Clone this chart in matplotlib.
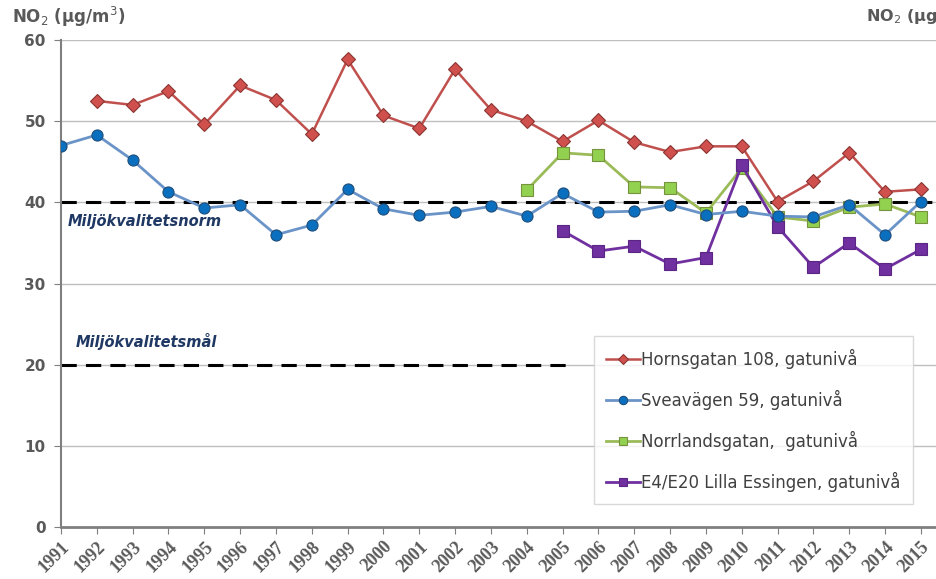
import matplotlib
matplotlib.use("Agg")
import matplotlib.pyplot as plt

# Årsmedelvärden NO2 (µg/m3)
years_horns = list(range(1992, 2016))
horns = [52.5, 52.0, 53.7, 49.6, 54.4, 52.6, 48.4, 57.6, 50.7, 49.1, 56.4, 51.4,
         50.0, 47.5, 50.1, 47.4, 46.2, 46.9, 46.9, 40.1, 42.6, 46.1, 41.3, 41.6]

years_svea = list(range(1991, 2016))
svea = [47.0, 48.3, 45.2, 41.3, 39.3, 39.7, 36.0, 37.2, 41.6, 39.2, 38.4, 38.8, 39.5,
        38.3, 41.1, 38.8, 38.9, 39.7, 38.5, 38.9, 38.3, 38.2, 39.7, 36.0, 40.1]

years_norr = list(range(2004, 2016))
norr = [41.5, 46.1, 45.8, 41.9, 41.8, 38.7, 44.2, 38.2, 37.7, 39.4, 39.8, 38.2]

years_e4 = list(range(2005, 2016))
e4 = [36.5, 34.0, 34.6, 32.4, 33.2, 44.6, 37.0, 32.0, 35.0, 31.8, 34.2]

norm_value = 40
goal_value = 20

year_ticks = list(range(1991, 2016))
y_ticks = [0, 10, 20, 30, 40, 50, 60]

gray = "#595959"

fig = plt.figure(figsize=(9.37, 5.79), dpi=100)
ax = fig.add_axes([0.0651, 0.0898, 0.9349, 0.8411])

for y in y_ticks[1:]:
    ax.axhline(y, color="#bfbfbf", lw=1.0, zorder=0)

# gränsvärden
ax.plot([1991, 2015.45], [norm_value, norm_value], ls=(0, (5, 3)), color="black", lw=2.2, zorder=1)
ax.plot([1991, 2005.2], [goal_value, goal_value], ls=(0, (5, 3)), color="black", lw=2.2, zorder=1)
ax.text(1991.2, 37.6, "Miljökvalitetsnorm", color="#1f3864", fontsize=10.5,
        fontweight="bold", style="italic", va="center")
ax.text(1991.4, 22.8, "Miljökvalitetsmål", color="#1f3864", fontsize=10.5,
        fontweight="bold", style="italic", va="center")

ax.plot(years_horns, horns, color="#c0504d", lw=1.8, marker="D", ms=7,
        mfc="#d0504d", mec="#8c3533", mew=0.8, label="Hornsgatan 108, gatunivå", zorder=3)
ax.plot(years_svea, svea, color="#6a94c8", lw=2.0, marker="o", ms=8,
        mfc="#0b6fc0", mec="#1f4e79", mew=0.8, label="Sveavägen 59, gatunivå", zorder=4)
ax.plot(years_norr, norr, color="#9bbb59", lw=2.0, marker="s", ms=8,
        mfc="#92d050", mec="#76923c", mew=0.8, label="Norrlandsgatan,  gatunivå", zorder=3)
ax.plot(years_e4, e4, color="#7030a0", lw=2.0, marker="s", ms=8,
        mfc="#7030a0", mec="#5b2585", mew=0.8, label="E4/E20 Lilla Essingen, gatunivå", zorder=3)

ax.set_xlim(1991, 2015.45)
ax.set_ylim(0, 60)
ax.set_yticks(y_ticks)
ax.set_yticklabels([str(v) for v in y_ticks], fontsize=11, fontweight="bold", color=gray)
ax.set_xticks(year_ticks)
ax.set_xticklabels([str(y) for y in year_ticks], rotation=45, ha="right", va="top",
                   rotation_mode="anchor", family="Liberation Serif", fontsize=13,
                   fontweight="bold", color=gray)
ax.tick_params(axis="y", length=5, color="#7f7f7f", pad=6)
ax.tick_params(axis="x", length=5, color="#7f7f7f", pad=3)

for s in ["top", "right"]:
    ax.spines[s].set_visible(False)
ax.spines["left"].set_color("#7f7f7f")
ax.spines["left"].set_linewidth(1.5)
ax.spines["bottom"].set_color("#7f7f7f")
ax.spines["bottom"].set_linewidth(2.0)

leg = ax.legend(loc="lower right", bbox_to_anchor=(0.9825, 0.03), fontsize=12,
                frameon=True, fancybox=False, labelspacing=1.25, handlelength=2.0,
                handletextpad=0.1, borderpad=0.75, markerscale=0.75)
leg.get_frame().set_edgecolor("#d0d0d0")
leg.get_frame().set_linewidth(1.0)
for t in leg.get_texts():
    t.set_color("#404040")

fig.text(12 / 937, 1 - 17 / 579, "NO$_2$ (µg/m$^3$)", fontsize=12, fontweight="bold",
         color=gray, va="center", ha="left")
fig.text(866 / 937, 1 - 17 / 579, "NO$_2$ (µg", fontsize=11.5, fontweight="bold",
         color=gray, va="center", ha="left")

fig.savefig("out.png", dpi=100)
